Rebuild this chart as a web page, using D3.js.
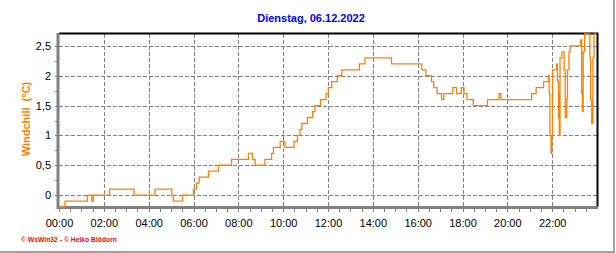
<!DOCTYPE html>
<html>
<head>
<meta charset="utf-8">
<script src="https://d3js.org/d3.v7.min.js"></script>
<style>
body { margin: 0; background: #fff; }
svg { display: block; font-family: Arial, "Liberation Sans", sans-serif; }
.grid line { stroke: #808080; stroke-dasharray: 4,2; shape-rendering: crispEdges; }
.tick line { stroke: #808080; shape-rendering: crispEdges; }
.tick text { fill: #000; font-size: 11px; }
</style>
<title>Windchill</title>
</head>
<body>
<script>
// change points of the windchill curve (value holds until next time)
var times = [
  "00:00", "00:16", "01:16", "01:28", "01:32", "02:15", "03:21", "04:17",
  "05:02", "05:06", "05:31", "06:00", "06:08", "06:15", "06:40", "07:07",
  "07:42", "08:27", "08:38", "08:45", "09:11", "09:29", "09:34", "09:52",
  "10:05", "10:29", "10:38", "10:45", "10:50", "11:05", "11:19", "11:25",
  "11:40", "11:55", "12:01", "12:10", "12:25", "12:37", "13:24", "13:39",
  "14:50", "16:11", "16:22", "16:37", "16:43", "16:52", "17:04", "17:10",
  "17:34", "17:44", "17:57", "18:04", "18:12", "18:29", "19:07", "19:38",
  "19:43", "21:05", "21:17", "21:37", "21:50", "21:52", "21:54", "21:57",
  "21:59", "22:01", "22:12", "22:14", "22:17", "22:18", "22:19", "22:21",
  "22:26", "22:32", "22:35", "22:39", "22:41", "22:45", "22:48", "23:14",
  "23:16", "23:19", "23:21", "23:23", "23:27", "23:41", "23:43", "23:46",
  "23:49", "23:52", "23:59"
];
var values = [
  -0.2, -0.1, 0.0, -0.1, 0.0, 0.1, 0.0, 0.1,
  0.0, -0.1, 0.0, 0.1, 0.2, 0.3, 0.4, 0.5,
  0.6, 0.7, 0.6, 0.5, 0.6, 0.7, 0.8, 0.9,
  0.8, 0.9, 1.0, 1.1, 1.2, 1.3, 1.4, 1.5,
  1.6, 1.7, 1.8, 1.9, 2.0, 2.1, 2.2, 2.3,
  2.2, 2.1, 2.0, 1.9, 1.8, 1.7, 1.6, 1.7,
  1.8, 1.7, 1.8, 1.7, 1.6, 1.5, 1.6, 1.7,
  1.6, 1.7, 1.8, 1.9, 2.0, 1.7, 1.0, 0.7,
  1.0, 2.1, 2.2, 1.9, 1.3, 1.7, 1.0, 2.3,
  2.4, 2.1, 1.3, 1.6, 2.1, 2.4, 2.5, 2.5,
  2.6, 1.7, 1.4, 2.4, 2.7, 2.3, 1.6, 1.2,
  2.3, 2.7, 2.7
];
var xTickLabels = ["00:00", "02:00", "04:00", "06:00", "08:00", "10:00",
                   "12:00", "14:00", "16:00", "18:00", "20:00", "22:00"];
var yTickValues = [0, 0.5, 1, 1.5, 2, 2.5];

var W = 616, H = 253;
var pLeft = 59, pRight = 597, pTop = 34, pBottom = 207;

function hours(s) {
  var p = s.split(":");
  return +p[0] + p[1] / 60;
}

var data = times.map(function(t, i) { return { t: hours(t), v: values[i] }; });

var x = d3.scaleLinear().domain([0, 24]).range([pLeft, pRight]);
var y = d3.scaleLinear().domain([-0.2, 2.7]).range([pBottom, pTop]);

var svg = d3.select("body").append("svg")
    .attr("width", W)
    .attr("height", H);

// outer frame (right and bottom)
svg.append("line").attr("x1", 614).attr("x2", 614).attr("y1", 0).attr("y2", 252)
    .attr("stroke", "#a0a0a0").attr("stroke-width", 2);
svg.append("line").attr("x1", 0).attr("x2", 615).attr("y1", 252).attr("y2", 252)
    .attr("stroke", "#a0a0a0").attr("stroke-width", 2);

// title
svg.append("text")
    .attr("x", 311).attr("y", 22)
    .attr("text-anchor", "middle")
    .style("font-size", "11px").style("font-weight", "bold")
    .attr("fill", "#0000ff")
    .text("Dienstag, 06.12.2022");

// grid
var grid = svg.append("g").attr("class", "grid");
grid.selectAll(".h")
    .data(yTickValues)
  .enter().append("line")
    .attr("x1", pLeft).attr("x2", pRight)
    .attr("y1", function(d) { return Math.round(y(d)) + 0.5; })
    .attr("y2", function(d) { return Math.round(y(d)) + 0.5; });
grid.selectAll(".v")
    .data(xTickLabels.slice(1))
  .enter().append("line")
    .attr("y1", pTop).attr("y2", pBottom)
    .attr("x1", function(d) { return Math.round(x(hours(d))) + 0.5; })
    .attr("x2", function(d) { return Math.round(x(hours(d))) + 0.5; });

// x axis: ticks every half hour, labels every two hours
var halfHours = d3.range(0, 48).map(function(i) { return i / 2; });
var xAxis = svg.append("g")
    .attr("transform", "translate(0," + (pBottom + 1) + ")")
    .call(d3.axisBottom(x)
      .tickValues(halfHours)
      .tickSize(4)
      .tickPadding(7)
      .tickFormat(function(d) {
        var i = xTickLabels.indexOf(d3.format("02")(d) + ":00");
        return (d % 2 === 0 && i >= 0) ? xTickLabels[i] : "";
      }));
xAxis.select(".domain").remove();

// y axis: ticks every quarter, labels every half
var quarters = d3.range(0, 11).map(function(i) { return i / 4; });
var yAxis = svg.append("g")
    .attr("transform", "translate(" + (pLeft - 1) + ",0)")
    .call(d3.axisLeft(y)
      .tickValues(quarters)
      .tickSize(3)
      .tickPadding(4)
      .tickFormat(function(d) {
        return yTickValues.indexOf(d) >= 0 ? String(d).replace(".", ",") : "";
      }));
yAxis.select(".domain").remove();

// frame: black top/right, grey thick left/bottom
svg.append("path")
    .attr("d", "M" + pLeft + "," + (pTop - 0.5) + "H" + (pRight + 0.5) + "V" + pBottom)
    .attr("fill", "none").attr("stroke", "#000").attr("stroke-width", 2);
svg.append("path")
    .attr("d", "M" + (pLeft - 1) + "," + (pTop - 1) + "V" + (pBottom + 0.5) + "H" + (pRight + 1))
    .attr("fill", "none").attr("stroke", "#808080").attr("stroke-width", 3);

// the series
var line = d3.line()
    .curve(d3.curveStepAfter)
    .x(function(d) { return x(d.t); })
    .y(function(d) { return y(d.v); });

svg.append("path")
    .datum(data)
    .attr("d", line)
    .attr("fill", "none")
    .attr("stroke", "#ff8000")
    .attr("stroke-width", 1.3);

// y axis title
svg.append("text")
    .attr("transform", "translate(30,119) rotate(-90)")
    .attr("text-anchor", "middle")
    .style("font-size", "11px").style("font-weight", "bold")
    .style("white-space", "pre")
    .attr("fill", "#ff8000")
    .text("Windchill  (°C)");

// footer
svg.append("text")
    .attr("x", 21).attr("y", 242)
    .attr("textLength", 96).attr("lengthAdjust", "spacingAndGlyphs")
    .style("font-size", "8px").style("font-weight", "bold")
    .attr("fill", "#ff0000")
    .text("© WsWin32 - © Heiko Blödorn");
</script>
</body>
</html>
